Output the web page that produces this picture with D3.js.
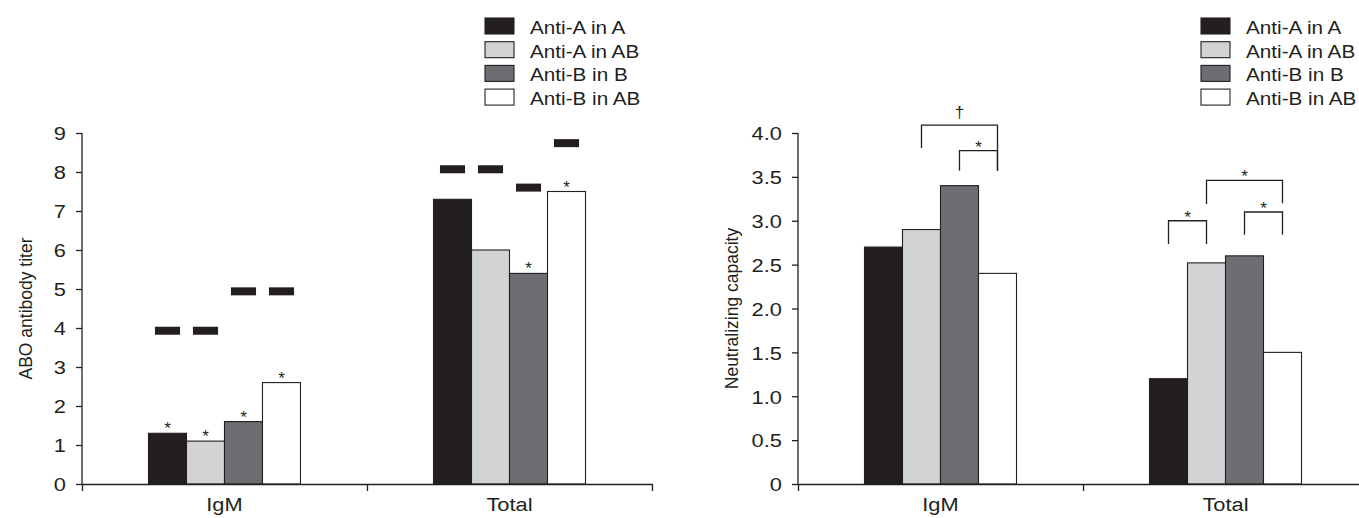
<!DOCTYPE html>
<html>
<head>
<meta charset="utf-8">
<script src="https://cdn.jsdelivr.net/npm/d3@7"></script>
<style>
  body { margin: 0; background: #fff; }
  svg { display: block; font-family: "Liberation Sans", Arial, sans-serif; }
</style>
</head>
<body>
<svg id="chart" width="1359" height="518"></svg>
<script>
// data
var groups = ['IgM', 'Total']
var seriesNames = ['Anti-A in A', 'Anti-A in AB', 'Anti-B in B', 'Anti-B in AB']
var seriesColors = ['#231f20', '#d1d3d4', '#6d6e71', '#ffffff']

// left panel: ABO antibody titer
var titerIgM = [1.3, 1.1, 1.6, 2.6]
var titerTotal = [7.3, 6.0, 5.4, 7.5]
var titerRefIgM = [3.93, 3.93, 4.94, 4.94]
var titerRefTotal = [8.07, 8.07, 7.6, 8.74]
var titerStarIgM = ['*', '*', '*', '*']
var titerStarTotal = ['', '', '*', '*']
var titerTicks = [0, 1, 2, 3, 4, 5, 6, 7, 8, 9]

// right panel: neutralizing capacity
var neutIgM = [2.7, 2.9, 3.4, 2.4]
var neutTotal = [1.2, 2.52, 2.6, 1.5]
var neutTicks = [0, 0.5, 1.0, 1.5, 2.0, 2.5, 3.0, 3.5, 4.0]
// significance brackets: from/to series index, top, leg ends
var neutBrackets = [
  {group: 'IgM', from: 1, to: 3, top: 4.09, endFrom: 3.83, endTo: 3.57, mark: '\u2020'},
  {group: 'IgM', from: 2, to: 3, top: 3.80, endFrom: 3.57, endTo: 3.57, mark: '*'},
  {group: 'Total', from: 0, to: 1, top: 3.00, endFrom: 2.735, endTo: 2.735, mark: '*'},
  {group: 'Total', from: 1, to: 3, top: 3.46, endFrom: 3.19, endTo: 3.20, mark: '*'},
  {group: 'Total', from: 2, to: 3, top: 3.10, endFrom: 2.84, endTo: 2.84, mark: '*'}
]

var ink = '#231f20'
var stretch = 'scale(1.15,1)'
var svg = d3.select('#chart')

var panels = [
  {x0: 82, yMax: 9, ticks: titerTicks, fmt: function(d){return String(d)},
   label: 'ABO antibody titer', labelX: 26,
   values: [titerIgM, titerTotal], refs: [titerRefIgM, titerRefTotal],
   stars: [titerStarIgM, titerStarTotal], brackets: []},
  {x0: 798, yMax: 4, ticks: neutTicks, fmt: function(d){return d === 0 ? '0' : d.toFixed(1)},
   label: 'Neutralizing capacity', labelX: 732,
   values: [neutIgM, neutTotal], refs: null, stars: null, brackets: neutBrackets}
]

panels.forEach(drawPanel)

function drawPanel(p){
  var g = svg.append('g')

  var y = d3.scaleLinear().domain([0, p.yMax]).range([484, 133])
  var xGroup = d3.scaleBand().domain(groups)
    .range([p.x0, p.x0 + 570])
    .paddingInner(0.4667).paddingOuter(0.2333)
  var xSeries = d3.scaleBand().domain(seriesNames).range([0, xGroup.bandwidth()])
  var xEdge = d3.scaleLinear().domain([0, 2]).range([p.x0, p.x0 + 570])

  function cx(gi, si){ return xGroup(groups[gi]) + xSeries(seriesNames[si]) + xSeries.bandwidth() / 2 }

  // bars
  var rows = []
  p.values.forEach(function(vals, gi){
    vals.forEach(function(v, si){ rows.push({gi: gi, si: si, v: v}) })
  })
  g.selectAll('.bar').data(rows).enter().append('rect')
    .attr('class', 'bar')
    .attr('x', function(d){return xGroup(groups[d.gi]) + xSeries(seriesNames[d.si])})
    .attr('y', function(d){return y(d.v)})
    .attr('width', xSeries.bandwidth())
    .attr('height', function(d){return y(0) - y(d.v)})
    .style('fill', function(d){return seriesColors[d.si]})
    .style('stroke', ink).style('stroke-width', 1.1)

  // reference dashes
  if(p.refs){
    var refRows = []
    p.refs.forEach(function(vals, gi){
      vals.forEach(function(v, si){ refRows.push({gi: gi, si: si, v: v}) })
    })
    var dw = xSeries.bandwidth() * 0.66
    g.selectAll('.ref').data(refRows).enter().append('rect')
      .attr('x', function(d){return cx(d.gi, d.si) - dw / 2})
      .attr('y', function(d){return y(d.v) - 4})
      .attr('width', dw).attr('height', 8)
      .style('fill', ink)
  }

  // asterisks over bars
  if(p.stars){
    var starRows = []
    p.stars.forEach(function(marks, gi){
      marks.forEach(function(m, si){ if(m) starRows.push({gi: gi, si: si, m: m, v: p.values[gi][si]}) })
    })
    g.selectAll('.star').data(starRows).enter().append('text')
      .attr('x', function(d){return cx(d.gi, d.si)})
      .attr('y', function(d){return y(d.v) + 1})
      .attr('text-anchor', 'middle')
      .style('font-size', '17px').style('fill', ink)
      .text(function(d){return d.m})
  }

  // brackets
  p.brackets.forEach(function(b){
    var gi = groups.indexOf(b.group)
    var xa = cx(gi, b.from), xb = cx(gi, b.to)
    g.append('path')
      .attr('d', 'M' + xa + ',' + y(b.endFrom) + 'V' + y(b.top) + 'H' + xb + 'V' + y(b.endTo))
      .style('fill', 'none').style('stroke', ink).style('stroke-width', 1.3)
    g.append('text')
      .attr('x', (xa + xb) / 2)
      .attr('y', b.mark === '*' ? y(b.top) + 2 : y(b.top) - 7)
      .attr('text-anchor', 'middle')
      .style('font-size', '17px').style('fill', ink)
      .text(b.mark)
  })

  // y axis
  var yAxis = g.append('g')
    .attr('transform', 'translate(' + p.x0 + ',0)')
    .attr('font-family', null)
    .call(d3.axisLeft(y).tickValues(p.ticks).tickFormat(p.fmt).tickSize(6).tickPadding(8))
  yAxis.attr('font-family', null)
  yAxis.select('.domain').attr('d', 'M0,' + y(p.yMax) + 'V' + y(0)).style('stroke', ink).style('stroke-width', 1.3)
  yAxis.selectAll('.tick line').style('stroke', ink).style('stroke-width', 1.3)
  yAxis.selectAll('.tick text').style('font-size', '19px').style('fill', ink)
    .attr('dy', '0.36em')
    .attr('transform', stretch)

  // x axis line with edge ticks
  var xAxis = g.append('g')
    .attr('transform', 'translate(0,' + y(0) + ')')
    .call(d3.axisBottom(xEdge).tickValues([0, 1, 2]).tickFormat('').tickSizeInner(7).tickSizeOuter(0))
  xAxis.select('.domain').style('stroke', ink).style('stroke-width', 1.3)
  xAxis.selectAll('.tick line').style('stroke', ink).style('stroke-width', 1.3)

  // category labels
  var xLab = g.append('g')
    .attr('transform', 'translate(0,' + y(0) + ')')
    .call(d3.axisBottom(xGroup).tickSize(0).tickPadding(14))
  xLab.attr('font-family', null)
  xLab.select('.domain').remove()
  xLab.selectAll('.tick text').style('font-size', '19px').style('fill', ink)
    .attr('transform', stretch)

  // y label
  g.append('text')
    .attr('transform', 'translate(' + p.labelX + ',' + y(p.yMax / 2) + ') rotate(-90)')
    .attr('text-anchor', 'middle')
    .attr('dy', '0.35em')
    .style('font-size', '17.5px').style('fill', ink)
    .text(p.label)

  // legend
  var lg = g.append('g').attr('transform', 'translate(' + (p.x0 + 403) + ',18)')
  var item = lg.selectAll('.item').data(seriesNames).enter().append('g')
    .attr('transform', function(d, i){return 'translate(0,' + (i * 23.7) + ')'})
  item.append('rect')
    .attr('width', 29).attr('height', 16)
    .style('fill', function(d, i){return seriesColors[i]})
    .style('stroke', ink).style('stroke-width', 1.1)
  item.append('g').attr('transform', 'translate(45,16)')
    .append('text')
    .attr('transform', stretch)
    .style('font-size', '18px').style('fill', ink)
    .text(function(d){return d})
}
</script>
</body>
</html>
